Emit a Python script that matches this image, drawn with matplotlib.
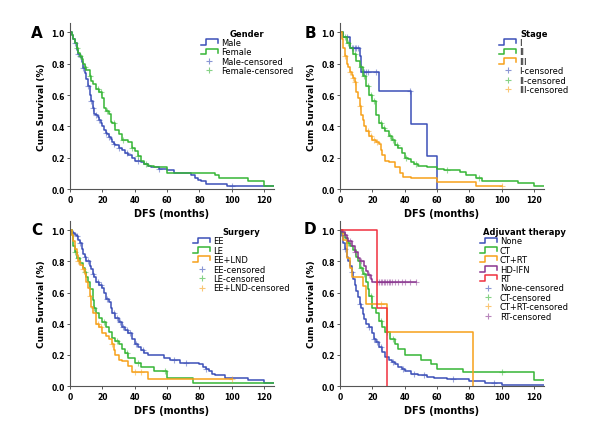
import numpy as np
import matplotlib
matplotlib.use("Agg")
from matplotlib import pyplot as plt
from matplotlib.legend_handler import HandlerBase
from matplotlib.lines import Line2D

BLUE = '#3c50b8'
GREEN = '#35b535'
ORANGE = '#f7a11a'
PURPLE = '#8a3590'
RED = '#f0303f'

# ---- A: gender ----
male_t = [1, 2, 3, 4, 5, 6, 7, 8, 9, 10, 11, 12, 13, 14, 15, 16, 17, 18, 19, 20, 21, 22, 23, 24, 25, 26,
          27, 28, 30, 32, 34, 36, 38, 40, 44, 46, 48, 50, 55, 60, 64, 75, 77, 79, 81, 84, 97]
male_s = [0.98, 0.96, 0.93, 0.89, 0.86, 0.84, 0.81, 0.77, 0.74, 0.70, 0.66, 0.60, 0.56, 0.52, 0.48, 0.47,
          0.46, 0.44, 0.42, 0.40, 0.38, 0.36, 0.35, 0.33, 0.32, 0.30, 0.29, 0.28, 0.26, 0.25, 0.23, 0.22,
          0.20, 0.18, 0.17, 0.16, 0.15, 0.14, 0.13, 0.12, 0.10, 0.09, 0.07, 0.06, 0.05, 0.03, 0.02]
male_c = [3, 5, 8, 11, 13, 14, 16, 18, 22, 24, 27, 30, 35, 42, 55, 100]
female_t = [1, 2, 3, 4, 5, 6, 7, 8, 9, 10, 12, 13, 14, 16, 18, 20, 21, 22, 24, 25, 26, 28, 30, 32, 36, 38,
            40, 42, 44, 46, 48, 52, 60, 90, 92, 110, 120]
female_s = [0.98, 0.96, 0.93, 0.90, 0.87, 0.85, 0.83, 0.80, 0.78, 0.76, 0.72, 0.69, 0.67, 0.64, 0.62, 0.58,
            0.52, 0.50, 0.48, 0.43, 0.42, 0.38, 0.35, 0.31, 0.30, 0.26, 0.24, 0.21, 0.18, 0.16, 0.15, 0.14,
            0.10, 0.09, 0.07, 0.05, 0.02]
female_c = [4, 6, 9, 12, 17, 19, 23, 27, 33, 38, 42, 47]

# ---- B: stage ----
st1_t = [2, 6, 12, 13, 24, 44, 54, 60]
st1_s = [0.97, 0.90, 0.85, 0.75, 0.625, 0.415, 0.21, 0.0]
st1_c = [4, 7, 8, 9, 10, 11, 14, 15, 16, 17, 22, 43]
st2_t = [2, 4, 6, 8, 10, 12, 14, 16, 18, 20, 22, 24, 26, 28, 30, 32, 34, 36, 38, 40, 42, 44, 46, 48, 54,
         60, 64, 74, 78, 84, 88, 110, 120]
st2_s = [0.97, 0.93, 0.90, 0.86, 0.82, 0.78, 0.72, 0.66, 0.60, 0.56, 0.47, 0.42, 0.39, 0.37, 0.34, 0.31,
         0.28, 0.26, 0.23, 0.20, 0.19, 0.17, 0.16, 0.15, 0.14, 0.13, 0.12, 0.11, 0.09, 0.07, 0.05, 0.04, 0.02]
st2_c = [3, 5, 9, 13, 15, 17, 19, 21, 25, 27, 31, 33, 35, 41, 47, 66, 86]
st3_t = [1, 2, 3, 4, 5, 6, 7, 8, 9, 10, 11, 12, 13, 14, 15, 16, 18, 20, 22, 24, 25, 26, 28, 30, 34, 37,
         39, 44, 60, 84]
st3_s = [0.96, 0.90, 0.85, 0.80, 0.78, 0.75, 0.73, 0.71, 0.68, 0.62, 0.58, 0.53, 0.47, 0.44, 0.40, 0.37,
         0.34, 0.31, 0.30, 0.29, 0.25, 0.22, 0.18, 0.17, 0.14, 0.10, 0.08, 0.07, 0.045, 0.02]
st3_c = [3, 6, 8, 9, 12, 17, 19, 21, 23, 100]

# ---- C: surgery ----
ee_t = [1, 2, 3, 4, 5, 6, 7, 8, 9, 10, 12, 13, 14, 15, 16, 18, 20, 21, 22, 24, 25, 26, 28, 30, 32, 34, 36,
        38, 40, 42, 44, 46, 48, 58, 62, 68, 80, 82, 84, 86, 88, 90, 96, 110, 120]
ee_s = [0.99, 0.98, 0.97, 0.96, 0.94, 0.92, 0.88, 0.85, 0.83, 0.80, 0.77, 0.75, 0.72, 0.70, 0.67, 0.65,
        0.63, 0.60, 0.56, 0.54, 0.50, 0.47, 0.44, 0.41, 0.38, 0.36, 0.34, 0.30, 0.27, 0.25, 0.23, 0.21, 0.20,
        0.18, 0.17, 0.15, 0.14, 0.12, 0.11, 0.10, 0.08, 0.07, 0.05, 0.04, 0.02]
ee_c = [2, 4, 6, 9, 11, 14, 17, 19, 23, 27, 29, 31, 33, 35, 37, 41, 45, 64, 72, 84]
le_t = [1, 2, 3, 4, 6, 8, 9, 10, 11, 12, 14, 15, 16, 18, 20, 22, 24, 26, 28, 30, 32, 34, 36, 40, 44, 52,
        60, 76]
le_s = [0.97, 0.90, 0.86, 0.82, 0.79, 0.76, 0.73, 0.70, 0.67, 0.62, 0.55, 0.50, 0.47, 0.44, 0.41, 0.38,
        0.35, 0.31, 0.29, 0.27, 0.24, 0.21, 0.18, 0.15, 0.12, 0.10, 0.05, 0.02]
le_c = [3, 5, 9, 15, 21, 29, 35, 42, 59]
lnd_t = [1, 2, 3, 4, 5, 6, 8, 9, 10, 11, 12, 13, 14, 16, 18, 20, 22, 24, 26, 27, 28, 30, 32, 36, 38, 48]
lnd_s = [0.97, 0.93, 0.88, 0.84, 0.80, 0.78, 0.75, 0.72, 0.67, 0.63, 0.58, 0.51, 0.47, 0.40, 0.38, 0.34,
         0.32, 0.30, 0.27, 0.23, 0.20, 0.17, 0.16, 0.13, 0.09, 0.045]
lnd_c = [5, 8, 12, 17, 19, 26, 40, 44, 100]

# ---- D: adjuvant therapy ----
none_t = [1, 2, 3, 4, 5, 6, 7, 8, 9, 10, 11, 12, 13, 14, 15, 16, 18, 20, 21, 22, 24, 26, 28, 30, 32, 34,
          36, 38, 40, 44, 48, 54, 58, 66, 80, 84, 90, 100, 110]
none_s = [0.96, 0.92, 0.88, 0.83, 0.80, 0.77, 0.73, 0.69, 0.65, 0.61, 0.57, 0.53, 0.50, 0.46, 0.43, 0.40,
          0.38, 0.34, 0.30, 0.28, 0.25, 0.22, 0.19, 0.17, 0.155, 0.14, 0.12, 0.11, 0.10, 0.08, 0.07, 0.06,
          0.05, 0.045, 0.035, 0.03, 0.02, 0.01, 0.005]
none_c = [3, 7, 12, 18, 21, 23, 25, 33, 39, 46, 52, 70, 95]
ct_t = [1, 3, 4, 6, 8, 10, 11, 12, 14, 16, 17, 18, 20, 22, 24, 26, 28, 31, 34, 36, 40, 50, 56, 60, 76, 120]
ct_s = [0.98, 0.95, 0.92, 0.90, 0.87, 0.83, 0.80, 0.76, 0.72, 0.67, 0.62, 0.58, 0.50, 0.47, 0.42, 0.38,
        0.35, 0.30, 0.27, 0.24, 0.20, 0.17, 0.14, 0.11, 0.09, 0.04]
ct_c = [5, 13, 15, 19, 25, 29, 33, 100]
ctrt_t = [2, 4, 6, 7, 14, 16, 29, 82]
ctrt_s = [0.94, 0.82, 0.76, 0.70, 0.64, 0.53, 0.35, 0.0]
ctrt_c = [25]
ifn_t = [1, 3, 4, 5, 7, 9, 11, 12, 15, 16, 17, 19, 20, 22]
ifn_s = [0.99, 0.97, 0.95, 0.93, 0.90, 0.86, 0.82, 0.80, 0.77, 0.74, 0.71, 0.69, 0.67, 0.665]
ifn_c = [3, 6, 9, 13, 18, 23, 24, 25, 26, 27, 28, 29, 30, 31, 32, 34, 36, 38, 40, 43, 47]
rt_t = [23, 29]
rt_s = [0.5, 0.0]


class StepHandler(HandlerBase):
    # small step-shaped legend icon like SPSS survival plots
    def create_artists(self, legend, orig, xdescent, ydescent, width, height, fontsize, trans):
        x0, y0 = -xdescent, -ydescent
        xs = [x0, x0 + 0.3 * width, x0 + 0.3 * width, x0 + width, x0 + width]
        ys = [y0, y0, y0 + height, y0 + height, y0 + 0.3 * height]
        line = Line2D(xs, ys, color=orig.get_color(), lw=1.1, transform=trans)
        return [line]


def km(ax, t, s, cens, color, end):
    t = np.asarray(t, float)
    s = np.asarray(s, float)
    tt = np.r_[0, t, end]
    ss = np.r_[1, s, s[-1]]
    ax.step(tt, ss, where='post', color=color, lw=1.1)
    if len(cens):
        idx = np.searchsorted(t, cens, side='right') - 1
        y = np.where(idx < 0, 1.0, s[np.clip(idx, 0, None)])
        ax.plot(cens, y, '+', color=color, alpha=0.5, ms=4, mew=0.8)


def style(ax, letter, lx, ly):
    ax.set_xlim(0, 126)
    ax.set_ylim(0, 1.06)
    ax.set_xticks(np.arange(0, 121, 20))
    ax.set_yticks(np.arange(0, 1.01, 0.2))
    ax.set_yticklabels(['%.1f' % v for v in np.arange(0, 1.01, 0.2)])
    for sp in ['top', 'right']:
        ax.spines[sp].set_visible(False)
    for sp in ['left', 'bottom']:
        ax.spines[sp].set_color('#555555')
        ax.spines[sp].set_linewidth(0.8)
    ax.tick_params(labelsize=5.5, length=2, width=0.7, pad=2, color='#555555')
    for lab in ax.get_xticklabels() + ax.get_yticklabels():
        lab.set_fontweight('bold')
    ax.set_xlabel('DFS (months)', fontsize=7, fontweight='bold', labelpad=3)
    ax.set_ylabel('Cum Survival (%)', fontsize=6.5, fontweight='bold', labelpad=4)
    fig.text(lx, ly, letter, fontsize=11, fontweight='bold', ha='center', va='center')


def add_legend(ax, title, names, colors, cnames, ccolors, x, y):
    handles = [Line2D([], [], color=c) for c in colors]
    handles += [Line2D([], [], marker='+', ls='none', color=c, alpha=0.6, ms=5, mew=0.8) for c in ccolors]
    hmap = {h: StepHandler() for h in handles[:len(colors)]}
    leg = ax.legend(handles, names + cnames, title=title, handler_map=hmap, loc='upper left',
                    bbox_to_anchor=(x, y), bbox_transform=fig.transFigure, frameon=False,
                    fontsize=6, labelspacing=0.05, handlelength=2.0, handletextpad=0.4,
                    borderpad=0, borderaxespad=0,
                    title_fontproperties={'weight': 'bold', 'size': 6})
    leg._legend_box.align = 'center'


fig = plt.figure(figsize=(6, 4.35), dpi=100)
W, H = 0.339, 0.382
axA = fig.add_axes([0.117, 0.563, W, H])
axB = fig.add_axes([0.567, 0.563, W, H])
axC = fig.add_axes([0.117, 0.110, W, 0.380])
axD = fig.add_axes([0.567, 0.110, W, 0.380])

km(axA, male_t, male_s, male_c, BLUE, 126)
km(axA, female_t, female_s, female_c, GREEN, 126)
style(axA, 'A', 0.062, 0.924)
add_legend(axA, 'Gender', ['Male', 'Female'], [BLUE, GREEN],
           ['Male-censored', 'Female-censored'], [BLUE, GREEN], 0.335, 0.932)

km(axB, st1_t, st1_s, st1_c, BLUE, 60)
km(axB, st2_t, st2_s, st2_c, GREEN, 126)
km(axB, st3_t, st3_s, st3_c, ORANGE, 100)
style(axB, 'B', 0.517, 0.924)
add_legend(axB, 'Stage', ['I', 'II', 'III'], [BLUE, GREEN, ORANGE],
           ['I-censored', 'II-censored', 'III-censored'], [BLUE, GREEN, ORANGE], 0.832, 0.932)

km(axC, ee_t, ee_s, ee_c, BLUE, 126)
km(axC, le_t, le_s, le_c, GREEN, 126)
km(axC, lnd_t, lnd_s, lnd_c, ORANGE, 100)
style(axC, 'C', 0.062, 0.469)
add_legend(axC, 'Surgery', ['EE', 'LE', 'EE+LND'], [BLUE, GREEN, ORANGE],
           ['EE-censored', 'LE-censored', 'EE+LND-censored'], [BLUE, GREEN, ORANGE], 0.322, 0.476)

km(axD, none_t, none_s, none_c, BLUE, 126)
km(axD, ct_t, ct_s, ct_c, GREEN, 126)
km(axD, ctrt_t, ctrt_s, ctrt_c, ORANGE, 82)
km(axD, ifn_t, ifn_s, ifn_c, PURPLE, 47)
km(axD, rt_t, rt_s, [], RED, 29)
style(axD, 'D', 0.517, 0.472)
add_legend(axD, 'Adjuvant therapy', ['None', 'CT', 'CT+RT', 'HD-IFN', 'RT'],
           [BLUE, GREEN, ORANGE, PURPLE, RED],
           ['None-censored', 'CT-censored', 'CT+RT-censored', 'RT-censored'],
           [BLUE, GREEN, ORANGE, PURPLE], 0.80, 0.476)

fig.savefig('out.png', dpi=100)
